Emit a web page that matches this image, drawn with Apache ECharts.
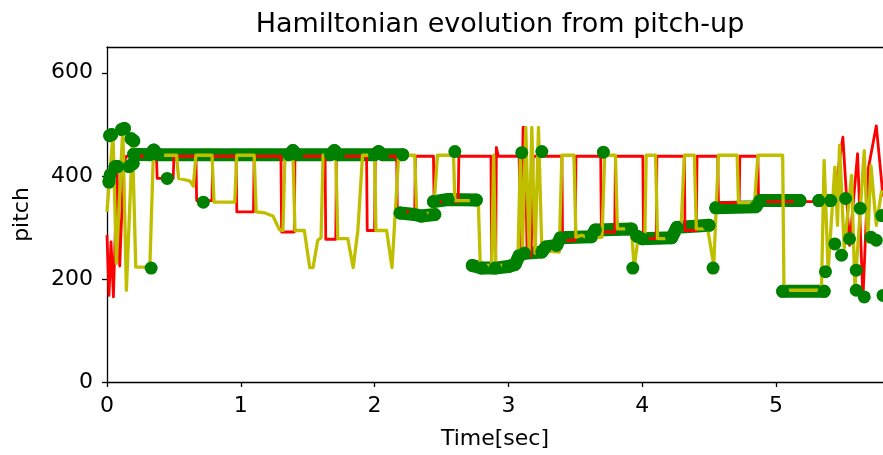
<!DOCTYPE html>
<html><head><meta charset="utf-8">
<script src="https://cdn.jsdelivr.net/npm/echarts@6/dist/echarts.min.js"></script>
<style>html,body{margin:0;padding:0;background:#fff}#c{width:883px;height:455px}</style>
</head><body><div id="c"></div>
<script>
const xTicks = [0, 1, 2, 3, 4, 5];
const yTicks = [0, 200, 400, 600];

const redPts = [
[0.00,285],[0.015,168],[0.03,272],[0.048,165],[0.075,410],[0.095,225],[0.125,425],[0.145,438],
[0.37,438],[0.375,395],[0.495,395],[0.50,438],
[0.665,438],[0.67,352],[0.785,352],[0.79,438],
[0.965,438],[0.97,330],[1.095,330],[1.10,438],
[1.30,438],[1.305,291],[1.40,291],[1.405,438],
[1.63,438],[1.635,277],[1.71,277],[1.715,438],
[1.94,438],[1.945,294],[2.0,294],[2.005,438],
[2.165,438],[2.17,330],[2.30,330],[2.305,438],
[2.44,438],[2.445,350],[2.625,350],[2.63,438],
[2.87,438],[2.875,217],[2.905,217],[2.91,455],[2.925,438],
[3.08,438],[3.095,250],[3.11,494],[3.125,494],[3.14,245],[3.17,245],[3.185,438],
[3.40,438],[3.405,275],[3.50,275],[3.505,438],
[3.69,438],[3.695,291],[3.795,291],[3.80,438],
[4.005,438],[4.01,278],[4.105,278],[4.11,438],
[4.315,438],[4.32,294],[4.405,294],[4.41,438],
[4.565,438],[4.57,348],[4.725,348],[4.73,438],
[4.865,438],[4.87,350],[5.43,350],[5.50,475],[5.55,265],[5.61,443],[5.65,160],[5.69,414],[5.75,497],[5.80,360]
];

const yellowPts = [
[0.00,330],[0.045,482],[0.07,230],[0.118,492],[0.145,178],[0.19,470],[0.215,223],[0.32,223],[0.345,430],[0.36,440],
[0.52,440],[0.535,395],[0.62,390],[0.645,380],[0.665,440],
[0.785,440],[0.80,349],[0.955,349],[0.97,440],
[1.10,440],[1.115,330],[1.18,328],[1.21,325],[1.24,322],[1.29,295],[1.315,294],[1.33,440],
[1.39,440],[1.405,294],[1.475,294],[1.515,222],[1.54,222],[1.575,275],[1.60,280],[1.615,440],
[1.71,440],[1.725,278],[1.80,278],[1.84,222],[1.875,294],[1.91,440],
[2.00,440],[2.01,294],[2.09,294],[2.13,222],[2.18,440],
[2.30,440],[2.315,327],[2.44,327],[2.47,440],
[2.59,440],[2.60,352],[2.775,352],[2.79,226],[2.875,226],[2.89,440],[2.905,226],
[3.07,226],[3.09,440],[3.105,255],[3.13,494],[3.155,250],[3.175,494],[3.20,250],[3.225,494],[3.25,255],[3.38,252],[3.40,440],
[3.49,440],[3.505,281],[3.55,285],[3.60,278],[3.70,281],[3.72,440],
[3.80,440],[3.815,297],[3.92,297],[3.94,221],[3.97,281],[4.02,281],[4.03,440],
[4.10,440],[4.115,278],[4.22,278],[4.255,294],[4.29,294],[4.315,440],
[4.39,440],[4.405,297],[4.49,297],[4.535,226],[4.57,440],
[4.71,440],[4.72,348],[4.84,348],[4.865,440],
[5.05,440],[5.06,178],[5.34,178],[5.36,430],[5.39,214],[5.44,417],[5.46,304],[5.475,459],[5.51,259],[5.565,401],[5.59,181],[5.66,449],[5.685,272],[5.71,420],[5.75,304],[5.79,372]
];

const greenSegs = [
[[0.02,478],[0.035,480]],
[[0.015,388],[0.025,402]],
[[0.06,418],[0.08,418]],
[[0.11,490],[0.13,492]],
[[0.165,418],[0.195,424]],
[[0.18,472],[0.2,468]],
[[0.2,442],[0.32,441],[0.35,450],[0.38,441],[1.36,441],[1.39,449],[1.42,441],[1.67,441],[1.70,449],[1.73,441],[2.00,441],[2.03,447],[2.06,441],[2.21,441]],
[[0.33,221]],
[[0.45,395]],
[[0.72,349]],
[[2.19,328],[2.30,325],[2.35,322],[2.45,325]],
[[2.44,350],[2.55,354],[2.76,353]],
[[2.60,447]],
[[2.73,226],[2.80,221],[2.90,221],[3.00,224],[3.05,228],[3.08,245],[3.12,250],[3.25,252],[3.28,262],[3.36,265],[3.39,280],[3.62,282],[3.65,295],[3.92,297]],
[[3.10,445]],
[[3.25,447]],
[[3.71,446]],
[[3.93,221]],
[[3.96,283],[4.0,278],[4.22,280],[4.26,300],[4.50,304]],
[[4.53,221]],
[[4.55,338],[4.85,340],[4.88,352],[5.18,352]],
[[5.05,176],[5.36,176]],
[[5.32,352],[5.41,352]],
[[5.37,214]],
[[5.44,268]],
[[5.49,246]],
[[5.52,356]],
[[5.55,278]],
[[5.60,217]],
[[5.60,178]],
[[5.66,165]],
[[5.63,337]],
[[5.71,281]],
[[5.75,275]],
[[5.79,323]],
[[5.80,168]]
];

const greenData = [];
greenSegs.forEach(s => { s.forEach(p => greenData.push(p)); greenData.push([s[s.length-1][0], '-']); });

const FONT = 'DejaVu Sans';
const chart = echarts.init(document.getElementById('c'), null, {renderer: 'canvas'});
chart.setOption({
  animation: false,
  backgroundColor: '#fff',
  title: {
    text: 'Hamiltonian evolution from pitch-up',
    left: 495, top: 6, textAlign: 'center',
    textStyle: {fontFamily: FONT, fontSize: 27, fontWeight: 'normal', color: '#000'}
  },
  grid: {left: 107, right: 0, top: 47, bottom: 73, containLabel: false, outerBoundsMode: 'none'},
  xAxis: [{
    type: 'value', min: 0, max: 5.8,
    name: 'Time[sec]', nameLocation: 'middle', nameGap: 46,
    nameTextStyle: {fontFamily: FONT, fontSize: 22, color: '#000'},
    axisLine: {show: true, lineStyle: {color: '#000', width: 1.3}},
    axisTick: {show: true, inside: false, length: 5, lineStyle: {color: '#000', width: 1.3}, customValues: xTicks},
    axisLabel: {fontFamily: FONT, fontSize: 22, color: '#000', margin: 13, customValues: xTicks},
    splitLine: {show: false}
  }, {
    type: 'value', min: 0, max: 5.8, position: 'top',
    axisLine: {show: true, onZero: false, lineStyle: {color: '#000', width: 1.3}},
    axisTick: {show: false}, axisLabel: {show: false}, splitLine: {show: false}
  }],
  yAxis: {
    type: 'value', min: 0, max: 650,
    name: 'pitch', nameLocation: 'middle', nameGap: 74, nameRotate: 90,
    nameTextStyle: {fontFamily: FONT, fontSize: 22, color: '#000'},
    axisLine: {show: true, lineStyle: {color: '#000', width: 1.3}},
    axisTick: {show: true, inside: false, length: 5, lineStyle: {color: '#000', width: 1.3}, customValues: yTicks},
    axisLabel: {fontFamily: FONT, fontSize: 22, color: '#000', margin: 14, customValues: yTicks},
    splitLine: {show: false}
  },
  series: [
    {
      type: 'line', name: 'green', data: greenData, xAxisIndex: 0,
      showSymbol: true, showAllSymbol: true, symbol: 'circle', symbolSize: 13,
      itemStyle: {color: '#008000'},
      lineStyle: {color: '#008000', width: 13, cap: 'round', join: 'round'},
      connectNulls: false, silent: true
    },
    {
      type: 'line', name: 'red', data: redPts, xAxisIndex: 0,
      showSymbol: false, lineStyle: {color: '#ff0000', width: 2.8, join: 'round'}, silent: true
    },
    {
      type: 'line', name: 'yellow', data: yellowPts, xAxisIndex: 0,
      showSymbol: false, lineStyle: {color: '#bfbf00', width: 3.3, join: 'round'}, silent: true
    }
  ]
});
</script>
</body></html>
